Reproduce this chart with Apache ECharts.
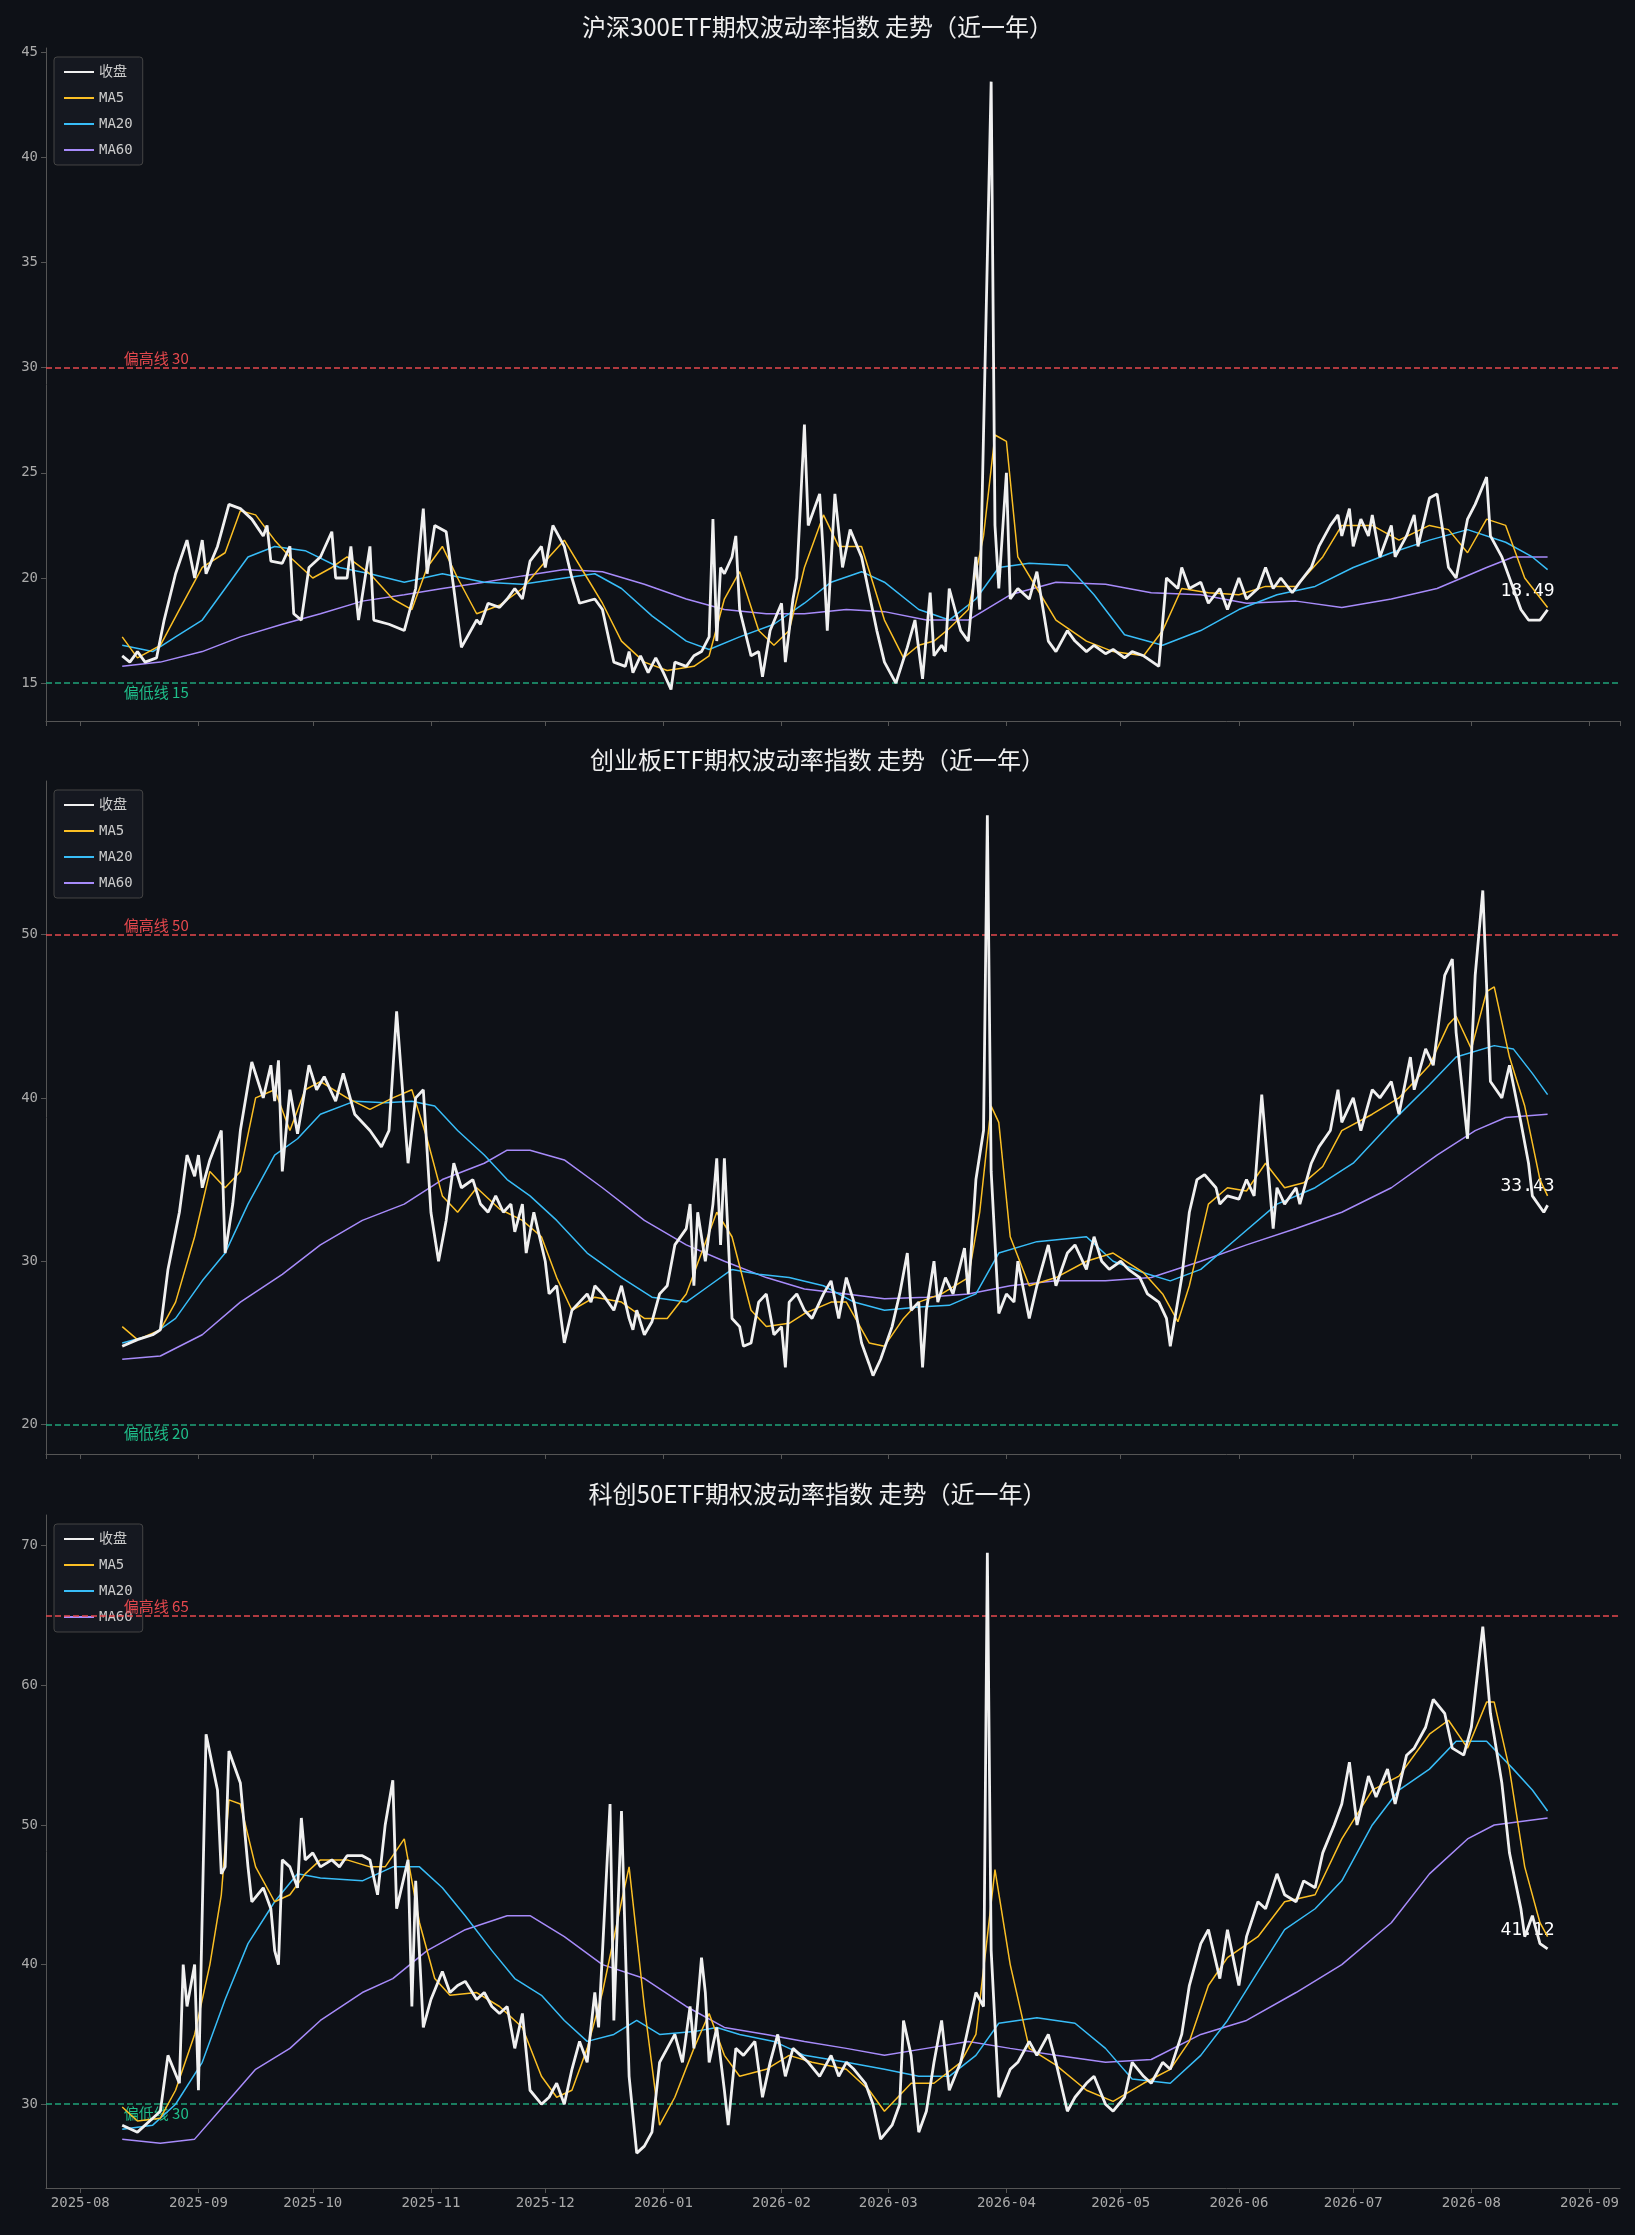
<!DOCTYPE html>
<html>
<head>
<meta charset="utf-8">
<script src="https://cdn.jsdelivr.net/npm/echarts@6/dist/echarts.min.js"></script>
<style>
  html,body{margin:0;padding:0;background:#0e1117;}
  #main{width:1635px;height:2235px;}
</style>
</head>
<body>
<div id="main"></div>
<script>
// 数据: [读数刻度的天数, 数值, ...]  读数刻度通过 dayAnchors 换算为自2025-08-01起的实际天数
var closeHs300 = [10,16.3, 12,16.0, 14,16.5, 16,16.0, 19,16.2, 21,18.0, 24,20.2, 27,21.8, 28,20.0, 30,21.8, 31,20.2, 34,21.5, 37,23.5, 40,23.3, 43,22.8, 45,22.0, 46,22.5, 47,20.8, 50,20.7, 52,21.5, 53,18.3, 55,18.0, 57,20.5, 60,21.0, 62,22.2, 63,20.0, 66,20.0, 67,21.5, 69,18.0, 72,21.5, 73,18.0, 77,17.8, 80,17.5, 83,19.5, 85,23.3, 86,20.2, 88,22.5, 91,22.2, 93,19.5, 95,16.7, 98,18.0, 99,17.8, 101,18.8, 104,18.6, 106,19.0, 108,19.5, 110,19.0, 112,20.8, 114,21.5, 115,20.5, 117,22.5, 120,21.5, 122,20.0, 124,18.8, 128,19.0, 130,18.5, 132,16.0, 135,15.8, 136,16.5, 137,15.5, 139,16.3, 141,15.5, 143,16.2, 145,15.5, 147,14.7, 148,16.0, 150,15.8, 152,16.3, 154,16.5, 156,17.2, 157,22.8, 158,17.0, 159,20.5, 160,20.2, 162,21.0, 163,22.0, 164,18.5, 166,16.3, 168,16.5, 169,15.3, 171,17.5, 174,18.8, 175,16.0, 177,19.0, 178,20.0, 180,27.3, 181,22.5, 183,24.0, 184,21.0, 185,17.5, 187,24.0, 189,20.5, 191,22.3, 194,21.0, 198,17.5, 200,16.0, 202,15.0, 205,16.7, 207,18.0, 209,15.2, 211,19.3, 212,16.3, 214,16.8, 215,16.5, 216,19.5, 218,17.5, 220,17.0, 222,21.0, 223,18.5, 226,43.6, 227,22.5, 228,19.5, 229,25.0, 230,19.0, 232,19.5, 234,19.0, 236,20.3, 238,17.0, 240,16.5, 242,17.5, 244,17.0, 246,16.5, 248,16.8, 250,16.4, 252,16.6, 254,16.2, 256,16.5, 258,16.3, 261,15.8, 263,20.0, 265,19.5, 266,20.5, 268,19.5, 270,19.8, 272,18.8, 274,19.5, 276,18.5, 278,20.0, 280,19.0, 282,19.5, 284,20.5, 285,19.5, 287,20.0, 289,19.3, 291,19.8, 293,20.5, 295,21.5, 297,22.5, 299,23.0, 300,22.0, 301,23.3, 302,21.5, 304,22.8, 305,22.0, 306,23.0, 308,21.0, 310,22.5, 311,21.0, 313,22.0, 315,23.0, 316,21.5, 318,23.8, 320,24.0, 322,20.5, 324,20.0, 326,22.8, 328,23.5, 330,24.8, 331,22.0, 333,21.0, 335,20.0, 337,18.5, 339,18.0, 341,18.0, 343,18.49];
var ma5Hs300 = [10,17.2, 14,16.2, 20,16.8, 25,18.5, 30,20.5, 36,21.2, 40,23.2, 44,23.0, 48,21.8, 52,21.0, 58,20.0, 62,20.5, 66,21.0, 72,20.2, 78,19.0, 82,18.5, 86,20.5, 90,21.5, 94,20.0, 98,18.3, 104,18.7, 110,19.5, 116,21.0, 120,21.8, 126,20.0, 130,18.8, 134,17.0, 140,16.0, 146,15.6, 152,15.8, 156,16.3, 160,19.0, 164,20.3, 168,17.5, 172,16.8, 176,17.5, 180,20.5, 184,23.0, 188,21.5, 194,21.5, 200,18.0, 204,16.2, 208,16.8, 212,17.0, 216,17.6, 220,18.5, 224,22.0, 227,26.8, 229,26.5, 232,21.0, 236,19.5, 240,18.0, 246,17.0, 252,16.5, 258,16.3, 262,17.5, 266,19.5, 272,19.3, 278,19.2, 284,19.6, 290,19.6, 296,21.0, 300,22.5, 306,22.5, 312,21.8, 318,22.5, 322,22.3, 326,21.2, 330,22.8, 334,22.5, 338,20.0, 343,18.6];
var ma20Hs300 = [10,16.8, 18,16.5, 24,17.2, 30,18.0, 36,19.5, 42,21.0, 48,21.5, 56,21.3, 64,20.5, 72,20.2, 80,19.8, 90,20.2, 100,19.8, 110,19.7, 120,20.0, 128,20.2, 134,19.5, 142,18.2, 150,17.0, 156,16.6, 164,17.2, 172,17.8, 180,18.8, 186,19.8, 194,20.3, 200,19.8, 208,18.5, 216,18.0, 222,19.0, 228,20.5, 234,20.7, 242,20.6, 248,19.2, 254,17.3, 262,16.8, 270,17.5, 278,18.5, 286,19.2, 294,19.6, 302,20.5, 310,21.2, 318,21.8, 326,22.3, 334,21.7, 340,21.0, 343,20.4];
var ma60Hs300 = [10,15.8, 20,16.0, 30,16.5, 40,17.2, 50,17.8, 60,18.3, 70,18.9, 80,19.2, 90,19.5, 100,19.8, 110,20.1, 120,20.4, 130,20.3, 140,19.7, 150,19.0, 160,18.5, 170,18.3, 180,18.3, 190,18.5, 200,18.4, 210,18.0, 220,18.0, 230,19.2, 240,19.8, 250,19.7, 260,19.3, 270,19.2, 280,18.8, 290,18.9, 300,18.6, 310,19.0, 320,19.5, 330,20.5, 336,21.0, 343,21.0];

var closeCyb = [10,24.8, 14,25.2, 18,25.5, 20,25.8, 22,29.5, 25,33.0, 27,36.5, 28,35.2, 29,36.5, 30,34.5, 32,36.2, 35,38.0, 36,30.5, 38,33.5, 40,38.0, 43,42.2, 45,40.0, 47,42.0, 48,39.8, 49,42.3, 50,35.5, 52,40.5, 54,37.8, 57,42.0, 59,40.5, 61,41.3, 63,39.8, 65,41.5, 68,39.0, 72,38.0, 75,37.0, 77,38.0, 79,45.3, 81,36.0, 83,40.0, 85,40.5, 87,33.0, 89,30.0, 91,32.5, 93,36.0, 95,34.5, 97,35.0, 99,33.5, 101,33.0, 103,34.0, 105,33.0, 107,33.5, 108,31.8, 110,33.5, 111,30.5, 113,33.0, 115,30.0, 116,28.0, 118,28.5, 120,25.0, 122,27.0, 124,27.5, 126,28.0, 127,27.5, 128,28.5, 130,28.0, 132,27.0, 134,28.5, 136,26.5, 137,25.8, 138,27.0, 140,25.5, 142,26.3, 144,28.0, 146,28.5, 148,31.0, 150,32.0, 151,33.5, 152,28.5, 153,33.0, 155,30.0, 157,33.5, 158,36.3, 159,31.0, 160,36.3, 162,26.5, 164,26.0, 165,24.8, 166,25.0, 168,27.5, 170,28.0, 172,25.5, 174,26.0, 175,23.5, 176,27.5, 178,28.0, 180,27.0, 182,26.5, 184,28.0, 186,28.8, 188,26.5, 190,29.0, 192,27.5, 194,25.0, 196,23.7, 197,23.0, 199,24.0, 201,26.0, 203,28.0, 205,30.5, 206,27.0, 208,27.5, 209,23.5, 210,27.0, 212,30.0, 213,27.5, 215,29.0, 217,28.0, 219,30.8, 220,28.0, 222,35.0, 224,38.0, 225,57.3, 226,35.5, 228,26.8, 229,28.0, 231,27.5, 232,30.0, 234,26.5, 236,28.5, 238,31.0, 240,28.5, 242,30.5, 244,31.0, 246,29.5, 248,31.5, 249,30.0, 251,29.5, 253,30.0, 255,29.5, 257,29.0, 259,28.0, 261,27.5, 263,26.5, 264,24.8, 266,29.0, 268,33.0, 269,35.0, 271,35.3, 273,34.5, 274,33.5, 276,34.0, 278,33.8, 280,35.0, 281,34.0, 283,40.2, 285,32.0, 286,34.5, 288,33.5, 290,34.5, 291,33.5, 293,36.0, 295,37.0, 297,38.0, 299,40.5, 300,38.5, 302,40.0, 304,38.0, 306,40.5, 308,40.0, 310,41.0, 312,39.0, 314,42.5, 315,40.5, 317,43.0, 319,42.0, 321,47.5, 323,48.5, 324,44.0, 326,37.5, 328,47.5, 329,52.7, 331,41.0, 333,40.0, 335,42.0, 337,38.5, 339,36.0, 340,34.0, 342,33.0, 343,33.43];
var ma5Cyb = [10,26.0, 14,25.2, 20,25.8, 24,27.5, 28,31.5, 32,35.5, 36,34.5, 40,35.5, 44,40.0, 48,40.5, 52,38.0, 56,40.5, 60,41.0, 66,40.0, 72,39.3, 78,40.0, 82,40.5, 86,37.5, 90,34.0, 94,33.0, 98,34.5, 104,33.2, 110,32.5, 114,31.5, 118,29.0, 122,27.0, 128,27.8, 134,27.5, 140,26.5, 146,26.5, 150,28.0, 154,30.5, 158,33.0, 162,31.5, 166,27.0, 170,26.0, 176,26.2, 180,26.8, 186,27.5, 190,27.5, 196,25.0, 200,24.8, 204,26.5, 208,27.5, 214,28.0, 220,29.0, 223,33.0, 226,39.5, 228,38.5, 230,31.5, 234,28.5, 240,29.0, 246,30.0, 252,30.5, 258,29.3, 262,28.0, 265,26.3, 268,28.5, 272,33.5, 276,34.5, 280,34.3, 284,36.0, 288,34.5, 292,34.8, 296,35.8, 300,38.0, 306,39.0, 312,40.0, 318,42.0, 322,44.5, 324,45.0, 327,43.0, 330,46.5, 332,46.8, 335,42.5, 338,39.5, 341,35.0, 343,34.0];
var ma20Cyb = [10,25.0, 18,25.5, 24,26.5, 30,28.8, 36,30.5, 42,33.5, 48,36.5, 54,37.5, 60,39.0, 68,39.8, 76,39.7, 82,39.8, 88,39.5, 94,38.0, 100,36.5, 106,35.0, 112,34.0, 118,32.5, 126,30.5, 134,29.0, 142,27.8, 150,27.5, 156,28.5, 162,29.5, 168,29.2, 176,29.0, 184,28.5, 192,27.5, 200,27.0, 208,27.2, 216,27.3, 222,28.0, 228,30.5, 236,31.2, 246,31.5, 252,30.0, 258,29.3, 264,28.8, 270,29.5, 278,31.5, 286,33.5, 294,34.5, 302,36.0, 310,38.5, 318,40.8, 324,42.5, 332,43.2, 336,43.0, 340,41.5, 343,40.2];
var ma60Cyb = [10,24.0, 20,24.2, 30,25.5, 40,27.5, 50,29.2, 60,31.0, 70,32.5, 80,33.5, 90,35.0, 100,36.0, 106,36.8, 112,36.8, 120,36.2, 130,34.5, 140,32.5, 150,31.0, 160,30.0, 170,29.0, 180,28.3, 190,28.0, 200,27.7, 210,27.8, 220,28.0, 230,28.5, 240,28.8, 250,28.8, 260,29.0, 270,30.0, 280,31.0, 290,32.0, 300,33.0, 310,34.5, 320,36.5, 328,38.0, 334,38.8, 343,39.0];

var closeKc50 = [10,28.5, 14,28.0, 18,29.0, 20,29.5, 22,33.5, 25,31.5, 26,40.0, 27,37.0, 28,40.0, 29,31.0, 31,56.5, 34,52.5, 35,46.5, 36,47.0, 37,55.3, 40,53.0, 42,47.0, 43,44.5, 45,45.5, 47,44.0, 48,41.0, 49,40.0, 50,47.5, 52,47.0, 54,45.5, 55,50.5, 56,47.5, 58,48.0, 60,47.0, 62,47.5, 64,47.0, 66,47.8, 70,47.8, 72,47.5, 74,45.0, 76,50.0, 78,53.2, 79,44.0, 81,47.5, 82,37.0, 83,46.0, 85,35.5, 87,37.5, 90,39.5, 92,38.0, 94,38.5, 96,38.8, 98,37.5, 100,38.0, 102,37.0, 104,36.5, 106,37.0, 108,34.0, 110,36.5, 112,31.0, 114,30.0, 116,30.5, 118,31.5, 120,30.0, 122,32.5, 124,34.5, 126,33.0, 128,38.0, 129,35.5, 131,51.5, 132,36.0, 134,51.0, 136,32.0, 138,26.5, 140,27.0, 142,28.0, 144,33.0, 146,34.0, 148,35.0, 149,33.0, 151,37.0, 152,34.0, 154,40.5, 155,38.0, 156,33.0, 158,35.5, 160,31.0, 161,28.5, 163,34.0, 165,33.5, 167,34.5, 169,30.5, 171,33.0, 173,35.0, 175,32.0, 177,34.0, 179,33.5, 181,33.0, 183,32.0, 186,33.5, 188,32.0, 190,33.0, 192,32.5, 195,31.5, 197,30.0, 199,27.5, 201,28.5, 203,30.0, 204,36.0, 206,33.5, 208,28.0, 210,29.5, 212,33.0, 214,36.0, 216,31.0, 218,33.0, 220,35.5, 222,38.0, 224,37.0, 225,69.5, 226,41.0, 228,30.5, 230,32.5, 232,33.0, 234,34.5, 236,33.5, 238,35.0, 240,33.0, 242,29.5, 244,30.5, 246,31.5, 248,32.0, 250,30.0, 252,29.5, 254,30.5, 256,33.0, 258,32.0, 260,31.5, 262,33.0, 264,32.5, 266,35.0, 268,38.5, 270,41.5, 272,42.5, 274,39.0, 276,42.5, 278,38.5, 280,42.0, 282,44.5, 284,44.0, 286,46.5, 288,45.0, 290,44.5, 292,46.0, 294,45.5, 296,48.0, 298,50.0, 300,51.5, 301,54.5, 303,50.0, 305,53.5, 307,52.0, 309,54.0, 311,51.5, 313,55.0, 315,55.5, 317,57.0, 319,59.0, 321,58.0, 323,55.5, 325,55.0, 327,57.0, 329,64.2, 331,58.0, 333,53.0, 335,48.0, 337,44.0, 338,42.0, 340,43.5, 341,41.5, 343,41.12];
var ma5Kc50 = [10,29.8, 14,28.8, 20,29.0, 24,31.0, 28,35.0, 32,40.0, 35,45.0, 37,51.8, 40,51.5, 44,47.0, 48,44.5, 52,45.0, 56,46.5, 60,47.5, 66,47.5, 72,47.0, 76,47.0, 80,49.0, 84,43.0, 88,39.0, 92,37.8, 98,38.0, 104,37.0, 110,35.5, 114,32.0, 118,30.5, 122,31.0, 126,34.0, 130,38.0, 134,44.5, 136,47.0, 140,37.0, 144,28.5, 148,30.5, 152,34.0, 156,36.5, 160,33.5, 164,32.0, 170,32.5, 176,33.5, 182,33.0, 190,32.5, 196,31.0, 200,29.5, 206,31.5, 212,31.5, 218,33.0, 222,35.0, 225,42.0, 227,46.8, 230,40.0, 234,34.0, 240,32.8, 246,31.0, 252,30.2, 258,31.5, 264,32.5, 268,34.5, 272,38.5, 276,40.5, 282,42.0, 288,44.5, 294,45.0, 300,49.0, 306,52.5, 312,53.5, 318,56.5, 322,57.5, 326,55.5, 330,58.8, 332,58.8, 335,54.0, 338,47.0, 341,43.0, 343,42.0];
var ma20Kc50 = [10,28.2, 18,28.5, 24,30.0, 30,33.0, 36,37.5, 42,41.5, 48,44.5, 54,46.5, 60,46.2, 70,46.0, 78,47.0, 84,47.0, 90,45.5, 96,43.5, 102,41.0, 108,39.0, 114,37.8, 120,36.0, 126,34.5, 132,35.0, 138,36.0, 144,35.0, 152,35.2, 158,35.5, 164,35.0, 172,34.5, 180,33.5, 190,33.0, 200,32.5, 208,32.0, 216,32.0, 222,33.5, 228,35.8, 236,36.2, 244,35.8, 250,34.0, 256,31.8, 264,31.5, 270,33.5, 276,36.0, 282,39.5, 288,42.5, 294,44.0, 300,46.0, 306,50.0, 312,52.5, 318,54.0, 324,56.0, 330,56.0, 336,54.0, 340,52.5, 343,51.0];
var ma60Kc50 = [10,27.5, 20,27.2, 28,27.5, 36,30.0, 44,32.5, 52,34.0, 60,36.0, 70,38.0, 78,39.0, 86,41.0, 96,42.5, 106,43.5, 112,43.5, 120,42.0, 130,40.0, 140,39.0, 150,37.0, 160,35.5, 170,35.0, 180,34.5, 190,34.0, 200,33.5, 210,34.0, 220,34.5, 230,34.0, 240,33.5, 250,33.0, 260,33.2, 270,35.0, 280,36.0, 290,38.0, 300,40.0, 310,43.0, 318,46.5, 326,49.0, 332,50.0, 343,50.5];

// 读数刻度 -> 实际天数 的对照点
var dayAnchors = [[0, 0], [10, 10.5], [226, 239], [343, 385]];

var titles = ['沪深300ETF期权波动率指数 走势（近一年）', '创业板ETF期权波动率指数 走势（近一年）', '科创50ETF期权波动率指数 走势（近一年）'];
var highLines = [30, 50, 65];
var lowLines = [15, 20, 30];
var yMin = [13.2, 18.2, 24.0];
var yMax = [45.2, 59.4, 72.2];

var panels = [
    [closeHs300, ma5Hs300, ma20Hs300, ma60Hs300],
    [closeCyb, ma5Cyb, ma20Cyb, ma60Cyb],
    [closeKc50, ma5Kc50, ma20Kc50, ma60Kc50]
];

var base = Date.UTC(2025, 7, 1);
function realDay(d) {
    for (var i = 1; i < dayAnchors.length; i++) {
        var a = dayAnchors[i - 1], b = dayAnchors[i];
        if (d <= b[0] || i == dayAnchors.length - 1) {
            return a[1] + (d - a[0]) * (b[1] - a[1]) / (b[0] - a[0]);
        }
    }
}
function pts(arr) {
    var out = [];
    for (var i = 0; i < arr.length; i += 2) {
        out.push([base + Math.round(realDay(arr[i])) * 864e5, arr[i + 1]]);
    }
    return out;
}

var names = ['收盘', 'MA5', 'MA20', 'MA60'];
var colors = ['#f0f0f0', '#fbbf24', '#38bdf8', '#a78bfa'];
var widths = [2.8, 1.5, 1.5, 1.5];
var gridTops = [48, 781, 1515];
var fontFam = '"DejaVu Sans Mono", "Noto Sans CJK SC", monospace';

var option = {
    backgroundColor: '#0e1117',
    animation: false,
    title: [], grid: [], xAxis: [], yAxis: [], legend: [], series: []
};

for (var p = 0; p < 3; p++) {
    var gTop = gridTops[p];
    option.title.push({
        text: titles[p], left: 'center', top: gTop - 38,
        textStyle: {color: '#f0f0f0', fontSize: 24, fontWeight: 'normal', fontFamily: '"Noto Sans CJK SC", sans-serif'}
    });
    option.grid.push({left: 46, top: gTop, width: 1574, height: 673});
    option.xAxis.push({
        type: 'time', gridIndex: p,
        min: Date.UTC(2025, 6, 23), max: Date.UTC(2026, 8, 9),
        minInterval: 28 * 864e5, maxInterval: 31 * 864e5,
        axisLine: {lineStyle: {color: '#555'}},
        axisTick: {show: true, lineStyle: {color: '#555'}},
        splitLine: {show: false},
        axisLabel: {
            show: p == 2, color: '#aaa', fontSize: 14, fontFamily: fontFam,
            formatter: '{yyyy}-{MM}', hideOverlap: false
        }
    });
    option.yAxis.push({
        type: 'value', gridIndex: p, min: yMin[p], max: yMax[p],
        axisLine: {show: true, lineStyle: {color: '#555'}},
        axisTick: {show: true, lineStyle: {color: '#555'}},
        splitLine: {show: false},
        axisLabel: {color: '#aaa', fontSize: 14, fontFamily: fontFam, showMinLabel: false, showMaxLabel: false}
    });
    option.legend.push({
        orient: 'vertical', left: 54, top: gTop + 9,
        data: names.map(function (n, i) { return {name: n, icon: 'rect', itemStyle: {color: colors[i]}}; }),
        itemWidth: 30, itemHeight: 2, itemGap: 12,
        backgroundColor: 'rgba(22,26,34,0.85)', borderColor: '#444', borderWidth: 1, borderRadius: 3,
        padding: [8, 10],
        textStyle: {color: '#ccc', fontSize: 14, fontFamily: fontFam}
    });
    var d = panels[p];
    for (var s = 0; s < 4; s++) {
        var data = pts(d[s]);
        var ser = {
            name: names[s], type: 'line', xAxisIndex: p, yAxisIndex: p,
            data: data, symbol: 'none', z: 10 - s,
            lineStyle: {color: colors[s], width: widths[s]},
            itemStyle: {color: colors[s]}
        };
        if (s == 0) {
            var last = data[data.length - 1];
            ser.z = 12;
            ser.markPoint = {
                symbol: 'circle', symbolSize: 1, itemStyle: {color: 'rgba(0,0,0,0)'},
                data: [{coord: last, value: last[1].toFixed(2)}],
                label: {show: true, position: 'top', offset: [-20, -4], color: '#fff', fontSize: 18, fontFamily: fontFam}
            };
            ser.markLine = {
                symbol: 'none', silent: true,
                label: {show: false},
                data: [
                    {yAxis: highLines[p], lineStyle: {color: '#e5484d', type: 'dashed', width: 1.5}},
                    {yAxis: lowLines[p], lineStyle: {color: '#1fa37a', type: 'dashed', width: 1.5}}
                ]
            };
        }
        if (s == 1) {
            // 偏高线 / 偏低线 文字
            ser.markPoint = {
                symbol: 'circle', symbolSize: 1, itemStyle: {color: 'rgba(0,0,0,0)'},
                data: [
                    {coord: [base + 11 * 864e5, highLines[p]], value: '偏高线 ' + highLines[p],
                        label: {color: '#e5484d', position: 'right', offset: [-4, -9]}},
                    {coord: [base + 11 * 864e5, lowLines[p]], value: '偏低线 ' + lowLines[p],
                        label: {color: '#1fbf8a', position: 'right', offset: [-4, 9]}}
                ],
                label: {show: true, fontSize: 15, fontFamily: '"Noto Sans CJK SC", sans-serif', formatter: '{c}'}
            };
        }
        option.series.push(ser);
    }
}

var chart = echarts.init(document.getElementById('main'));
chart.setOption(option);
</script>
</body>
</html>
